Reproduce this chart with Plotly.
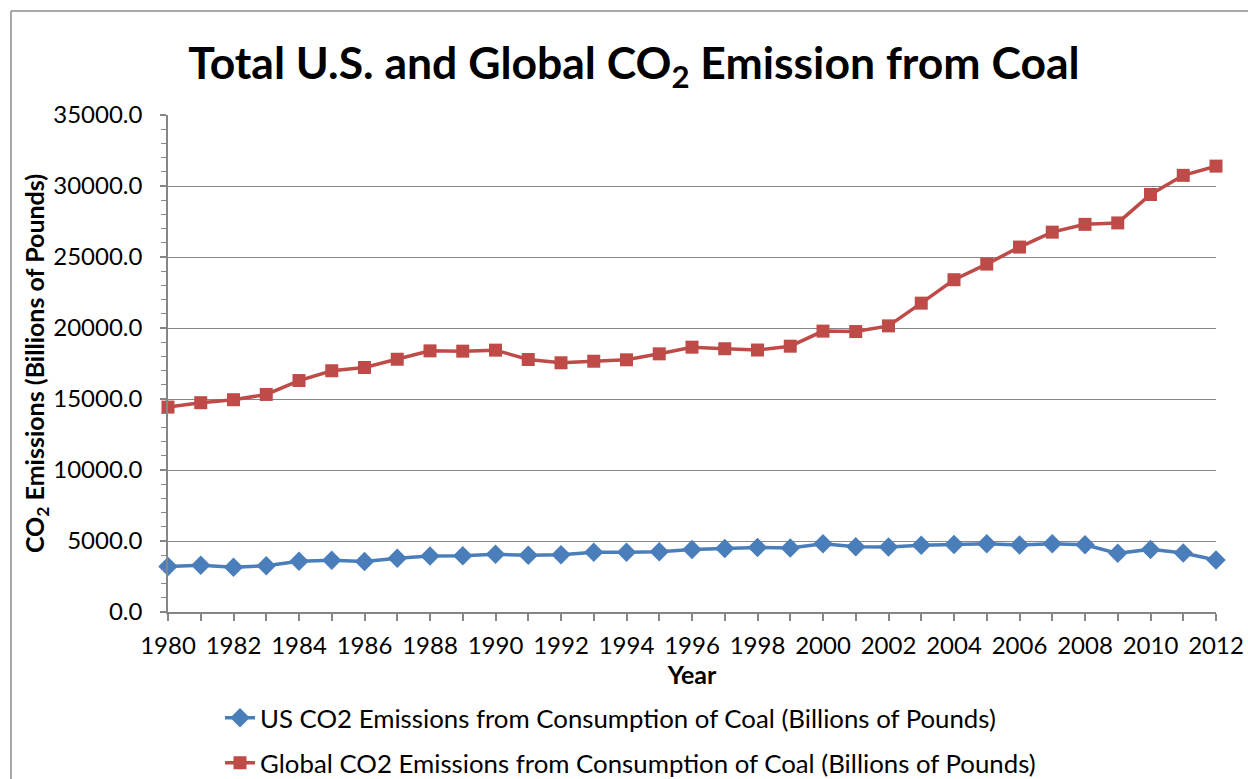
import plotly.graph_objects as go

years = list(range(1980, 2013))
us_co2 = [3200, 3290, 3150, 3260, 3570, 3640, 3550, 3780, 3940, 3960,
          4060, 3990, 4030, 4200, 4210, 4250, 4400, 4480, 4550, 4510,
          4800, 4600, 4580, 4700, 4760, 4800, 4720, 4800, 4740, 4130,
          4410, 4150, 3660]
global_co2 = [14430, 14740, 14950, 15320, 16300, 16990, 17220, 17800, 18390, 18370,
              18440, 17780, 17550, 17660, 17760, 18180, 18650, 18540, 18450, 18720,
              19780, 19750, 20150, 21750, 23400, 24500, 25700, 26750, 27300, 27400,
              29400, 30750, 31400]
x_tick_text = [str(y) if y % 2 == 0 else "" for y in years]
y_tick_vals = [0, 5000, 10000, 15000, 20000, 25000, 30000, 35000]

FONT = "Lato"
GRID = "#868686"
W, H = 1248, 779
L, R, T, B = 168, 1216, 115, 612
pw, ph = R - L, B - T

def px_x(px):
    return (px - L) / pw

def px_y(py):
    return (B - py) / ph

fig = go.Figure()
fig.add_trace(go.Scatter(
    x=years, y=us_co2, mode="lines+markers",
    name="US CO2 Emissions from Consumption of Coal (Billions of Pounds)",
    line=dict(color="#4A7EBB", width=3.5),
    marker=dict(symbol="diamond", size=15, color="#4A7EBB"),
    cliponaxis=False, legend="legend", showlegend=True))
fig.add_trace(go.Scatter(
    x=years, y=global_co2, mode="lines+markers",
    name="Global CO2 Emissions from Consumption of Coal (Billions of Pounds)",
    line=dict(color="#BE4B48", width=3.5),
    marker=dict(symbol="square", size=13, color="#BE4B48"),
    cliponaxis=False, legend="legend2", showlegend=True))

fig.update_layout(
    width=W, height=H, showlegend=True,
    margin=dict(l=L, r=W - R, t=T, b=H - B, autoexpand=False),
    paper_bgcolor="white", plot_bgcolor="white",
    font=dict(family=FONT, size=24, color="black"),
    title=dict(text="<b>Total U.S. and Global CO<sub>2</sub> Emission from Coal</b>",
               x=0.508, xanchor="center", y=1 - 63 / H, yanchor="middle",
               font=dict(family=FONT, size=44.5, color="black")),
    xaxis=dict(range=[1980, 2012], tickvals=years, ticktext=x_tick_text,
               showgrid=False, zeroline=False, automargin=False,
               showline=True, linecolor=GRID, linewidth=1.5,
               ticks="outside", ticklen=7, tickcolor=GRID, tickwidth=1.5,
               ticklabelstandoff=4,
               title=dict(text="<b>Year</b>", font=dict(family=FONT, size=25), standoff=9),
               tickfont=dict(family=FONT, size=24)),
    yaxis=dict(range=[0, 35000], tickvals=y_tick_vals, tickformat=".1f",
               showgrid=True, gridcolor=GRID, gridwidth=1.3, zeroline=False, automargin=False,
               showline=True, linecolor=GRID, linewidth=1.5,
               ticks="outside", ticklen=6, tickcolor=GRID, tickwidth=1.5,
               minor=dict(dtick=1000, ticks="outside", ticklen=5, tickcolor=GRID, tickwidth=1.2, showgrid=False),
               ticklabelstandoff=13,
               title=dict(text="<b>CO<sub>2</sub> Emissions (Billions of Pounds)</b>",
                          font=dict(family=FONT, size=25), standoff=0),
               tickfont=dict(family=FONT, size=24)),
    legend=dict(x=px_x(220), y=px_y(718), xanchor="left", yanchor="middle",
                bgcolor="rgba(0,0,0,0)", font=dict(family=FONT, size=25.8)),
    legend2=dict(x=px_x(220), y=px_y(763), xanchor="left", yanchor="middle",
                 bgcolor="rgba(0,0,0,0)", font=dict(family=FONT, size=25.8)),
    shapes=[
        dict(type="line", xref="paper", yref="paper",
             x0=px_x(11), x1=px_x(11), y0=px_y(11), y1=px_y(900),
             line=dict(color="#8C8C8C", width=1.5)),
        dict(type="line", xref="paper", yref="paper",
             x0=px_x(11), x1=px_x(1400), y0=px_y(11), y1=px_y(11),
             line=dict(color="#8C8C8C", width=1.5)),
    ],
)

fig.write_html("out.html", config={"displayModeBar": False},
               post_script="document.body.style.margin='0';document.body.style.overflow='hidden';")
